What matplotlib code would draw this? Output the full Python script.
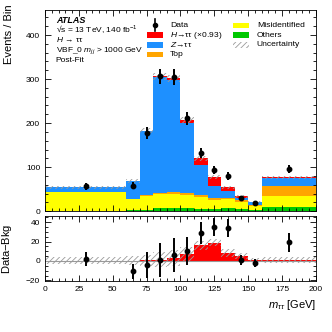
import numpy as np
import matplotlib
matplotlib.use("Agg")
import matplotlib.pyplot as plt
from matplotlib.patches import Rectangle
from matplotlib.ticker import MultipleLocator

plt.rcParams["font.family"] = ["Liberation Sans", "DejaVu Sans"]
plt.rcParams["mathtext.fontset"] = "custom"
plt.rcParams["mathtext.it"] = "Liberation Sans:italic"
plt.rcParams["mathtext.rm"] = "Liberation Sans"
plt.rcParams["hatch.linewidth"] = 0.6
plt.rcParams["hatch.color"] = "#9a9a9a"

# bins in m_tautau [GeV]
edges = [0, 60, 70, 80, 90, 100, 110, 120, 130, 140, 150, 160, 200]
centers = [30, 65, 75, 85, 95, 105, 115, 125, 135, 145, 155, 180]

# post-fit yields per bin
others = [0.5, 1.5, 2, 7.5, 7.5, 7.5, 6, 6, 7.5, 6, 2, 10]
misid = [43.5, 25, 32, 30.5, 31, 29.5, 26.5, 19, 19, 15, 9, 24]
top = [0.3, 0.3, 2, 3.5, 4.5, 5, 3.5, 4.5, 4.5, 4, 2, 23.5]
ztt = [9.7, 41.2, 146, 263.5, 256, 158, 68, 28.5, 15, 4, 7, 18.5]
htt = [0.1, 0.2, 0.5, 1.5, 3, 7, 16, 19, 8, 5, 1.5, 1]
unc = [3.5, 4.5, 6, 8, 8, 7, 5, 4, 4, 3, 2, 3.5]

data = [56, 57.5, 178, 306, 305, 210.5, 133, 93, 80, 30, 18, 95.5]
data_err = [7.5, 7.6, 13.3, 17.5, 17.5, 14.5, 11.5, 9.6, 8.9, 5.5, 4.2, 9.8]

c_others = "#00c800"
c_misid = "#ffff00"
c_top = "#ffa500"
c_ztt = "#1e90ff"
c_htt = "#ff0000"
c_unc = "#9a9a9a"

fig = plt.figure(figsize=(3.32, 3.32), dpi=100)
ax = fig.add_axes([0.1355, 0.364, 0.816, 0.606])
rax = fig.add_axes([0.1355, 0.154, 0.816, 0.196])

# stacked histogram
base = np.zeros(len(others))
for vals, col in [(others, c_others), (misid, c_misid), (top, c_top),
                  (ztt, c_ztt), (htt, c_htt)]:
    new = base + np.array(vals)
    ax.stairs(new, edges, baseline=base, fill=True, color=col, lw=0)
    base = new
total = base
unc = np.array(unc)
ax.stairs(total + unc, edges, baseline=total - unc, fill=True,
          facecolor="none", edgecolor=c_unc, hatch="//////", lw=0)

ax.errorbar(centers, data, yerr=data_err, fmt="o", color="black",
            ms=3.2, elinewidth=1.4, capsize=0)

ax.set_xlim(0, 200)
ax.set_ylim(0, 457)
ax.set_ylabel("Events / Bin", fontsize=8, loc="top")
ax.yaxis.set_label_coords(-0.115, 1.03)
ax.set_xticklabels([])

# Data - Bkg panel
bkg = total - np.array(htt)
diff = np.array(data) - bkg
rax.stairs(np.array(htt), edges, baseline=0, fill=True, color=c_htt, lw=0)
rax.stairs(np.array(htt) + unc, edges, baseline=np.array(htt) - unc, fill=True,
           facecolor="none", edgecolor=c_unc, hatch="//////", lw=0)
rax.axhline(0, color="#999999", lw=0.8)
rax.errorbar(centers, diff, yerr=data_err, fmt="o", color="black",
             ms=3.2, elinewidth=1.4, capsize=0)
rax.set_xlim(0, 200)
rax.set_ylim(-20.5, 46.5)
rax.set_ylabel("Data$-$Bkg", fontsize=8)
rax.yaxis.set_label_coords(-0.115, 0.5)
rax.set_xlabel(r"$m_{\tau\tau}$ [GeV]", fontsize=8, loc="right")

for a in (ax, rax):
    a.xaxis.set_major_locator(MultipleLocator(25))
    a.xaxis.set_minor_locator(MultipleLocator(5))
    a.tick_params(which="both", direction="in", top=True, right=True,
                  labelsize=6, width=0.6)
    a.tick_params(which="major", length=4)
    a.tick_params(which="minor", length=2)
    for s in a.spines.values():
        s.set_linewidth(0.6)
ax.yaxis.set_major_locator(MultipleLocator(100))
ax.yaxis.set_minor_locator(MultipleLocator(20))
rax.yaxis.set_major_locator(MultipleLocator(20))
rax.yaxis.set_minor_locator(MultipleLocator(5))

# labels
tx = 0.04
ax.text(tx, 0.95, "ATLAS", transform=ax.transAxes, fontsize=6.5,
        fontweight="bold", style="italic", va="center")
info = ["√s = 13 TeV, 140 fb$^{-1}$",
        "$H$ → ττ",
        "VBF_0 $m_{jj}$ > 1000 GeV",
        "Post-Fit"]
for i, t in enumerate(info):
    ax.text(tx, 0.903 - i * 0.052, t, transform=ax.transAxes, fontsize=6,
            va="center")

# legend, drawn by hand to keep the rows evenly spaced
rows = [0.924, 0.875, 0.826, 0.777]
entries = [
    (0, 0, "Data", None),
    (0, 1, "$H$→ττ (×0.93)", c_htt),
    (0, 2, "$Z$→ττ", c_ztt),
    (0, 3, "Top", c_top),
    (1, 0, "Misidentified", c_misid),
    (1, 1, "Others", c_others),
    (1, 2, "Uncertainty", "unc"),
]
col_x = [(0.376, 0.461), (0.694, 0.782)]
pw, ph = 0.059, 0.026
for col, row, lab, fc in entries:
    px, txx = col_x[col]
    y = rows[row]
    if fc is None:
        ax.plot([px + pw / 2] * 2, [y - 0.03, y + 0.03], color="black",
                lw=1.2, transform=ax.transAxes)
        ax.plot(px + pw / 2, y, "o", color="black", ms=3,
                transform=ax.transAxes)
    elif fc == "unc":
        ax.add_patch(Rectangle((px, y - ph / 2), pw, ph, facecolor="none",
                               edgecolor=c_unc, hatch="//////", lw=0,
                               transform=ax.transAxes))
    else:
        ax.add_patch(Rectangle((px, y - ph / 2), pw, ph, facecolor=fc,
                               lw=0, transform=ax.transAxes))
    ax.text(txx, y, lab, transform=ax.transAxes, fontsize=6.1, va="center")

fig.savefig("out.png", dpi=100)
